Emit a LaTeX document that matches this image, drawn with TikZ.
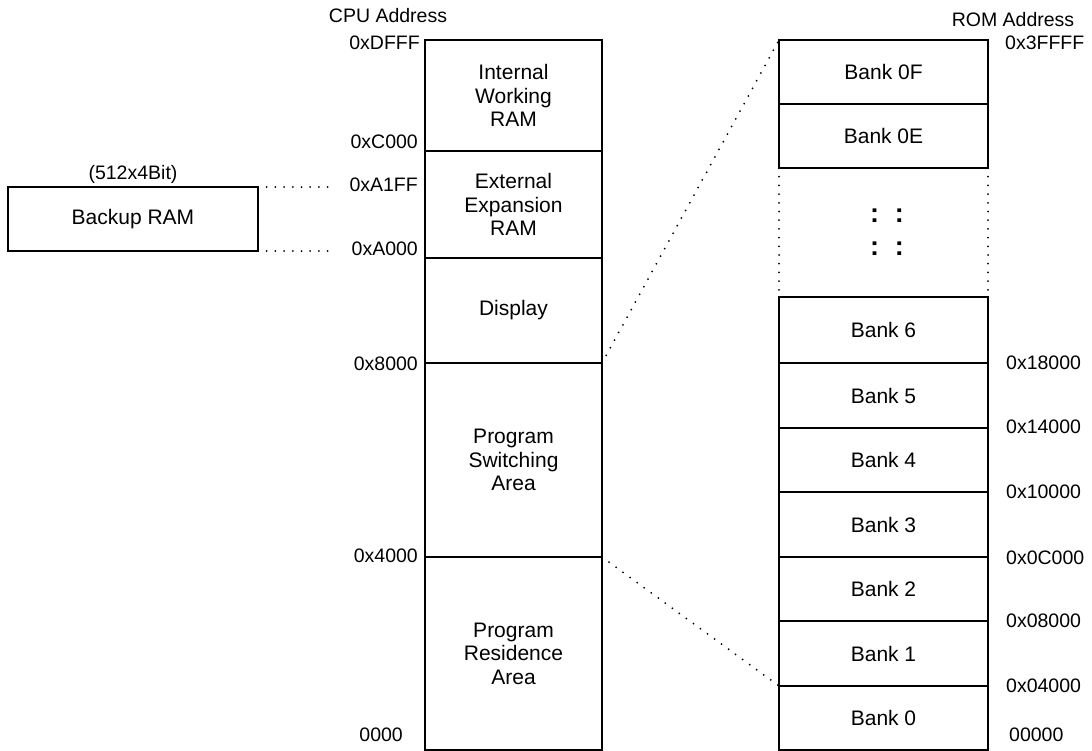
\documentclass[tikz,border=0pt]{standalone}
\usepackage{fontspec}
\setmainfont{Liberation Sans}
\usetikzlibrary{positioning}
\begin{document}
\begin{tikzpicture}[x=1pt, y=-1pt, font=\fontsize{19.5}{23.5}\selectfont,
          blk/.style={draw=black, line width=1.6pt, rectangle, inner sep=0pt, outer sep=0pt, anchor=north west, align=center, font=\fontsize{21}{23.5}\selectfont},
          cpublk/.style={blk, minimum width=177pt},
          bank/.style={blk, minimum width=209pt},
          addr/.style={inner sep=0pt, anchor=east},
          romaddr/.style={inner sep=0pt, anchor=west},
          colons/.style={font=\fontsize{27}{30}\selectfont\bfseries},
          dots/.style={line width=2pt, dash pattern=on 0pt off 8.7pt, line cap=round}]
        \useasboundingbox (0,0) rectangle (1092,750);
        % CPU address space
        \node[cpublk, minimum height=111pt] (iwram) at (425,40) {Internal\\Working\\RAM};
        \node[cpublk, minimum height=107pt] (extram) at (425,151) {External\\Expansion\\RAM};
        \node[cpublk, minimum height=105pt] (disp) at (425,258) {\raisebox{5pt}{Display}};
        \node[cpublk, minimum height=194pt] (pswitch) at (425,363) {Program\\Switching\\Area};
        \node[cpublk, minimum height=193pt] (pres) at (425,557) {Program\\Residence\\Area};
        \node at (388,16) (cpulbl) {CPU Address};
        \node[addr] (adfff) at (420,43) {0xDFFF};
        \node[addr] (ac000) at (418,142) {0xC000};
        \node[addr] (aa1ff) at (418,185) {0xA1FF};
        \node[addr] (aa000) at (418,249) {0xA000};
        \node[addr] (a8000) at (418,364) {0x8000};
        \node[addr] (a4000) at (418,556) {0x4000};
        \node[addr] (a0000) at (403,735) {0000};
        % backup RAM
        \node[blk, minimum width=250pt, minimum height=64pt] (backup) at (8,187) {Backup RAM};
        \node[above=3pt of backup.north, inner sep=0pt] (bsize) {(512x4Bit)};
        \coordinate (bendtop) at (335,187);
        \coordinate (bendbot) at (335,251);
        \draw[dots] (backup.north east) -- (bendtop);
        \draw[dots] (backup.south east) -- (bendbot);
        % ROM banks
        \node[bank, minimum height=64pt] (bankf) at (779,40) {Bank 0F};
        \node[bank, minimum height=64pt] (banke) at (779,104) {Bank 0E};
        \node[blk, draw=none, minimum width=209pt, minimum height=129pt] (gap) at (779,168) {};
        \draw[dots] (gap.north west) -- (gap.south west);
        \draw[dots] (gap.north east) -- (gap.south east);
        \node[colons] (colona) at (887,216) {:\hspace{16pt}:};
        \node[colons] (colonb) at (887,249) {:\hspace{16pt}:};
        \node[bank, minimum height=66pt] (bank6) at (779,297) {Bank 6};
        \node[bank, minimum height=65pt] (bank5) at (779,363) {Bank 5};
        \node[bank, minimum height=64pt] (bank4) at (779,428) {Bank 4};
        \node[bank, minimum height=65pt] (bank3) at (779,492) {Bank 3};
        \node[bank, minimum height=64pt] (bank2) at (779,557) {Bank 2};
        \node[bank, minimum height=65pt] (bank1) at (779,621) {Bank 1};
        \node[bank, minimum height=64pt] (bank0) at (779,686) {Bank 0};
        \node at (1013,20) (romlbl) {ROM Address};
        \node[romaddr] (r3ffff) at (1005,43) {0x3FFFF};
        \node[romaddr] (r18000) at (1006,363) {0x18000};
        \node[romaddr] (r14000) at (1006,427) {0x14000};
        \node[romaddr] (r10000) at (1006,492) {0x10000};
        \node[romaddr] (r0c000) at (1006,558) {0x0C000};
        \node[romaddr] (r08000) at (1006,621) {0x08000};
        \node[romaddr] (r04000) at (1006,686) {0x04000};
        \node[romaddr] (r00000) at (1009,735) {00000};
        % mapping of the switching window
        \draw[dots] (disp.south east) -- (bankf.north west);
        \draw[dots] (pswitch.south east) -- (bank1.south west);
      \end{tikzpicture}
\end{document}
